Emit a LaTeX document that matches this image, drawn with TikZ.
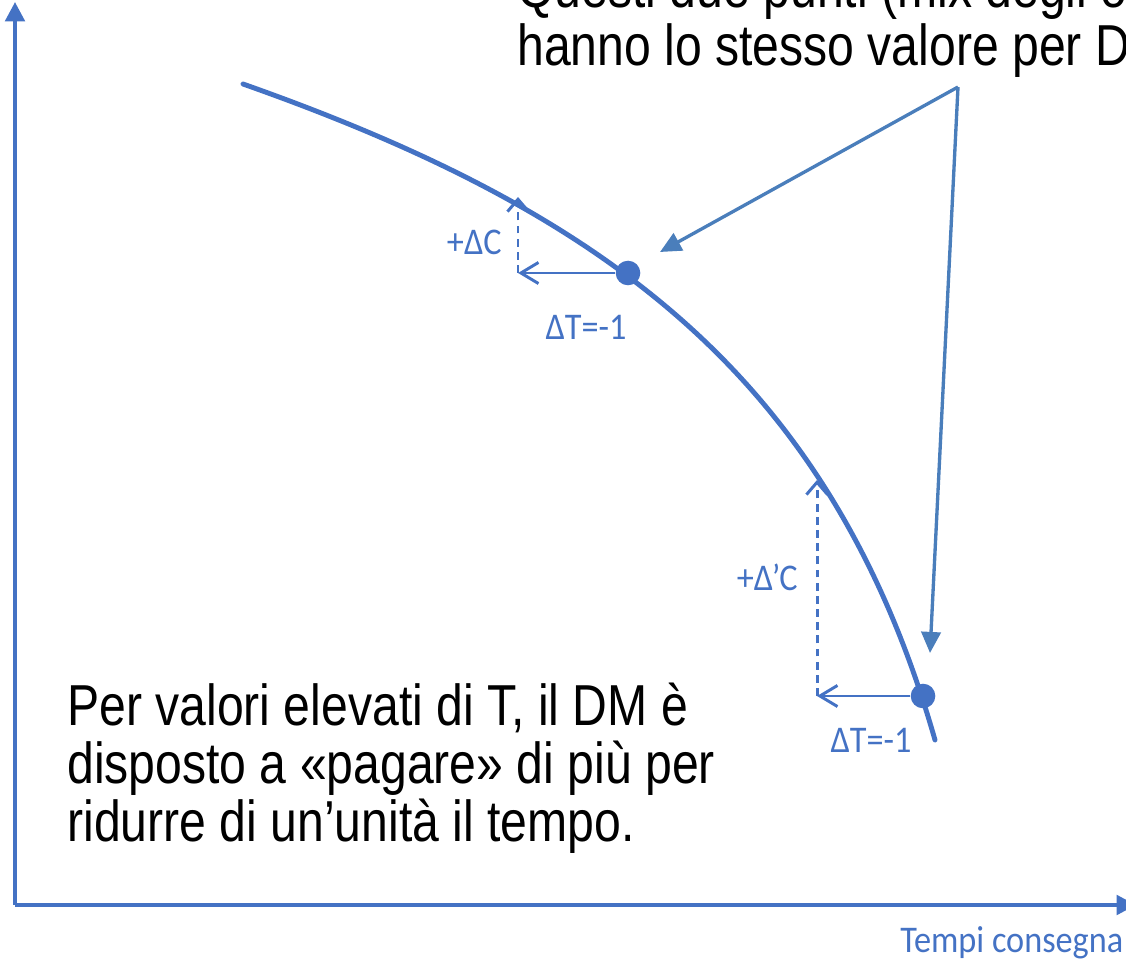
\documentclass[tikz,border=0pt]{standalone}
\usepackage{fontspec}
\setmainfont{Liberation Sans}
\newfontfamily\calib{Carlito}
\usetikzlibrary{arrows.meta}
\definecolor{curveblue}{HTML}{4472C4}
\definecolor{ptrblue}{HTML}{4A7EBB}
\tikzset{
  axis/.style  ={draw=curveblue, line width=2.3pt, -{Triangle[length=11pt,width=11pt]}},
  curve/.style ={draw=curveblue, line width=2.8pt, line cap=round},
  dot/.style   ={circle, fill=curveblue, inner sep=0pt, minimum size=14pt},
  harr/.style  ={draw=curveblue, line width=1.7pt, -{Straight Barb[length=10pt,width=12pt]}},
  varr/.style  ={draw=curveblue, line width=1.7pt, dash pattern=on 4.5pt off 3pt, -{Straight Barb[length=7pt,width=12pt]}},
  ptr/.style   ={draw=ptrblue, line width=1.9pt, -{Triangle[length=12pt,width=11pt]}},
  note/.style  ={font=\fontsize{27.4}{27.5}\selectfont, align=left, inner sep=0pt, yscale=1.2},
  lbl/.style   ={text=curveblue, font=\calib\fontsize{19.5}{22}\selectfont, inner sep=0pt, yscale=1.1},
}

\begin{document}
\begin{tikzpicture}[x=0.02cm, y=-0.02cm]
  \useasboundingbox (0,0) rectangle (1126,959);
  \clip (0,0) rectangle (1126,959);

  % axes
  \coordinate (o) at (15,905);
  \coordinate (ytop) at (15,2);
  \coordinate (xend) at (1136,905);
  \draw[axis] (o) -- (ytop);
  \draw[axis] (o) -- (xend);
  \node[lbl, anchor=base west] (xlab) at (900,952) {Tempi consegna};

  % indifference curve
  \coordinate (c0) at (243,84);
  \coordinate (c1) at (935,740);
  \draw[curve] (c0) .. controls (600,210) and (830,373) .. (c1);
  \node[dot] (p1) at (628,273) {};
  \node[dot] (p2) at (923,696) {};

  % steps
  \coordinate (h1) at (518,273);
  \coordinate (v1) at (518,197);
  \draw[harr] (p1) -- (h1);
  \draw[varr] (h1) -- (v1);
  \node[lbl, anchor=east] (dc1) at (502,242) {+ΔC};
  \node[lbl] (dt1) at (586,327) {ΔT=-1};

  \coordinate (h2) at (817,696);
  \coordinate (v2) at (817,480);
  \draw[harr] (p2) -- (h2);
  \draw[varr] (h2) -- (v2);
  \node[lbl, anchor=east] (dc2) at (798,577) {+Δ’C};
  \node[lbl] (dt2) at (871,740) {ΔT=-1};

  % pointers
  \node[note, anchor=base west] (top) at (517,66) {hanno lo stesso valore per D};
  \node[note, anchor=base west] (top0) at (517,8) {Questi due punti (mix degli o};
  \coordinate (src) at (958,87);
  \coordinate (t1) at (660,252);
  \coordinate (t2) at (930,653);
  \draw[ptr] (src) -- (t1);
  \draw[ptr] (src) -- (t2);

  \node[note, anchor=north west] (txt) at (67,683) {Per valori elevati di T, il DM è\\disposto a «pagare» di più per\\ridurre di un’unità il tempo.};
\end{tikzpicture}
\end{document}
